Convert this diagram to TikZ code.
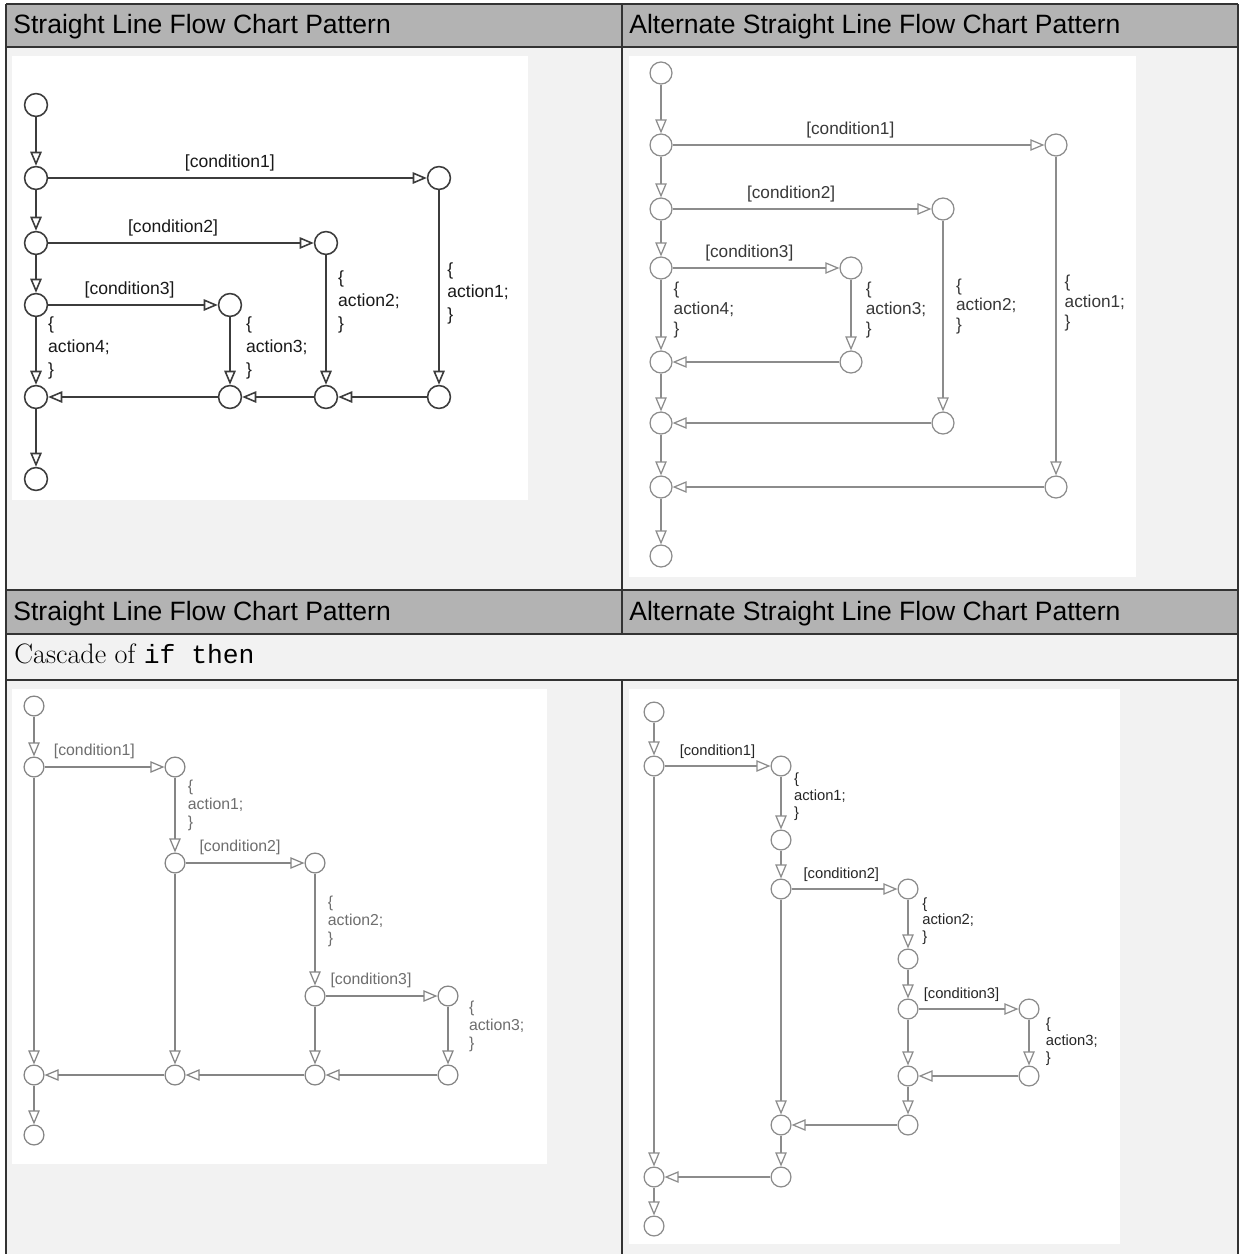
\documentclass[tikz,border=0pt]{standalone}
\usepackage{fontspec}
\usepackage{tikz}
\usetikzlibrary{arrows.meta}
\newfontfamily\labelfont{Liberation Sans}
\newfontfamily\codefont{Liberation Mono}
\newcommand\fontTL{\labelfont\fontsize{10}{13}\selectfont}
\newcommand\fontTR{\labelfont\fontsize{9.8}{11.3}\selectfont}
\newcommand\fontBL{\labelfont\fontsize{9}{10.2}\selectfont}
\newcommand\fontBR{\labelfont\fontsize{8.4}{9.6}\selectfont}
\definecolor{hdrgray}{HTML}{B3B3B3}
\definecolor{cellgray}{HTML}{F2F2F2}
\definecolor{rulegray}{HTML}{333333}
\definecolor{tlline}{HTML}{3C3C3C}
\definecolor{lightline}{HTML}{8C8C8C}
\definecolor{bltext}{HTML}{6E6E6E}

\begin{document}
\begin{tikzpicture}[x=0.02cm,y=-0.02cm,
  jn/.style={circle,draw,minimum size=#1,inner sep=0pt},
  flow/.style={-{Triangle[open,length=8pt,width=6.5pt]}},
  rule/.style={rulegray,line width=1pt},
  hdr/.style={font=\labelfont\fontsize{15.1}{17}\selectfont,anchor=base west,inner sep=0pt}]
\useasboundingbox (0,0) rectangle (1239,1254);
\fill[white] (0,0) rectangle (1239,1254);
\fill[hdrgray] (6,4) rectangle (1238,47);
\fill[cellgray] (6,47) rectangle (1238,590);
\fill[hdrgray] (6,590) rectangle (1238,634);
\fill[cellgray] (6,634) rectangle (1238,1254);
\fill[white] (12,56) rectangle (528,500);
\fill[white] (629,56) rectangle (1136,577);
\fill[white] (12,689) rectangle (547,1164);
\fill[white] (629,689) rectangle (1120,1244);
\draw[rule] (6,4) -- (1238,4) (6,47) -- (1238,47) (6,590) -- (1238,590) (6,634) -- (1238,634) (6,680) -- (1238,680);
\draw[rule] (1238,4) -- (1238,1254) (622,4) -- (622,634) (622,680) -- (622,1254);
\draw[rule,line width=1.3pt] (6,4) -- (6,1254);
\node[hdr] (hdrtl) at (13,33) {Straight Line Flow Chart Pattern};
\node[hdr] (hdrtr) at (629,33) {Alternate Straight Line Flow Chart Pattern};
\node[hdr] (hdrbl) at (13,620) {Straight Line Flow Chart Pattern};
\node[hdr] (hdrbr) at (629,620) {Alternate Straight Line Flow Chart Pattern};
\node[anchor=base west,inner sep=0pt,font=\fontsize{16}{19}\selectfont] (cascade) at (14,663) {Cascade of {\codefont\fontsize{15}{19}\selectfont if then}};

\begin{scope}[color=tlline,line width=0.9pt,nodes={font=\fontTL,text=black!90,inner sep=1pt}]
\node[jn=13pt] (tlstart) at (36,105) {};
\node[jn=13pt] (tls1) at (36,178) {};
\node[jn=13pt] (tls2) at (36,243) {};
\node[jn=13pt] (tls3) at (36,305) {};
\node[jn=13pt] (tlm0) at (36,397) {};
\node[jn=13pt] (tlend) at (36,479) {};
\node[jn=13pt] (tlt1) at (439,178) {};
\node[jn=13pt] (tlt2) at (326,243) {};
\node[jn=13pt] (tlt3) at (230,305) {};
\node[jn=13pt] (tlm1) at (439,397) {};
\node[jn=13pt] (tlm2) at (326,397) {};
\node[jn=13pt] (tlm3) at (230,397) {};
\draw[flow] (tlstart) -- (tls1);
\draw[flow] (tls1) -- (tls2);
\draw[flow] (tls2) -- (tls3);
\draw[flow] (tls1) -- node[pos=0.48,above=2.2pt] {[condition1]} (tlt1);
\draw[flow] (tls2) -- node[pos=0.47,above=2.2pt] {[condition2]} (tlt2);
\draw[flow] (tls3) -- node[pos=0.48,above=2.2pt] {[condition3]} (tlt3);
\draw[flow] (tls3) -- node[pos=0.45,right=5.5pt,align=left] {\{\\action4;\\\}} (tlm0);
\draw[flow] (tlt3) -- node[pos=0.45,right=7.7pt,align=left] {\{\\action3;\\\}} (tlm3);
\draw[flow] (tlt2) -- node[pos=0.36,right=5.5pt,align=left] {\{\\action2;\\\}} (tlm2);
\draw[flow] (tlt1) -- node[pos=0.53,right=3.3pt,align=left] {\{\\action1;\\\}} (tlm1);
\draw[flow] (tlm1) -- (tlm2);
\draw[flow] (tlm2) -- (tlm3);
\draw[flow] (tlm3) -- (tlm0);
\draw[flow] (tlm0) -- (tlend);
\end{scope}

\begin{scope}[color=lightline,line width=0.7pt,nodes={font=\fontTR,text=black!78,inner sep=1pt}]
\node[jn=12.5pt] (trstart) at (661,73) {};
\node[jn=12.5pt] (trs1) at (661,145) {};
\node[jn=12.5pt] (trs2) at (661,209) {};
\node[jn=12.5pt] (trs3) at (661,268) {};
\node[jn=12.5pt] (trm3) at (661,362) {};
\node[jn=12.5pt] (trm2) at (661,423) {};
\node[jn=12.5pt] (trm1) at (661,487) {};
\node[jn=12.5pt] (trend) at (661,556) {};
\node[jn=12.5pt] (trt1) at (1056,145) {};
\node[jn=12.5pt] (trt2) at (943,209) {};
\node[jn=12.5pt] (trt3) at (851,268) {};
\node[jn=12.5pt] (trr3) at (851,362) {};
\node[jn=12.5pt] (trr2) at (943,423) {};
\node[jn=12.5pt] (trr1) at (1056,487) {};
\draw[flow] (trstart) -- (trs1);
\draw[flow] (trs1) -- (trs2);
\draw[flow] (trs2) -- (trs3);
\draw[flow] (trs1) -- node[pos=0.478,above=2.6pt] {[condition1]} (trt1);
\draw[flow] (trs2) -- node[pos=0.458,above=2.6pt] {[condition2]} (trt2);
\draw[flow] (trs3) -- node[pos=0.46,above=2.6pt] {[condition3]} (trt3);
\draw[flow] (trs3) -- node[pos=0.43,right=5.9pt,align=left] {\{\\action4;\\\}} (trm3);
\draw[flow] (trt3) -- node[pos=0.43,right=7.1pt,align=left] {\{\\action3;\\\}} (trr3);
\draw[flow] (trt2) -- node[pos=0.45,right=6.1pt,align=left] {\{\\action2;\\\}} (trr2);
\draw[flow] (trt1) -- node[pos=0.46,right=3.6pt,align=left] {\{\\action1;\\\}} (trr1);
\draw[flow] (trr3) -- (trm3);
\draw[flow] (trm3) -- (trm2);
\draw[flow] (trr2) -- (trm2);
\draw[flow] (trm2) -- (trm1);
\draw[flow] (trr1) -- (trm1);
\draw[flow] (trm1) -- (trend);
\end{scope}

\begin{scope}[color=lightline!95!black,line width=0.7pt,nodes={font=\fontBL,text=bltext,inner sep=1pt}]
\node[jn=11.3pt] (blstart) at (34,706) {};
\node[jn=11.3pt] (bls1) at (34,767) {};
\node[jn=11.3pt] (blm0) at (34,1075) {};
\node[jn=11.3pt] (blend) at (34,1135) {};
\node[jn=11.3pt] (blt1) at (175,767) {};
\node[jn=11.3pt] (bls2) at (175,863) {};
\node[jn=11.3pt] (blm1) at (175,1075) {};
\node[jn=11.3pt] (blt2) at (315,863) {};
\node[jn=11.3pt] (bls3) at (315,996) {};
\node[jn=11.3pt] (blm2) at (315,1075) {};
\node[jn=11.3pt] (blt3) at (448,996) {};
\node[jn=11.3pt] (blm3) at (448,1075) {};
\draw[flow] (blstart) -- (bls1);
\draw[flow] (bls1) -- node[pos=0.415,above=3.2pt] {[condition1]} (blt1);
\draw[flow] (blt1) -- node[pos=0.37,right=6pt,align=left] {\{\\action1;\\\}} (bls2);
\draw[flow] (bls2) -- node[pos=0.458,above=3.2pt] {[condition2]} (blt2);
\draw[flow] (blt2) -- node[pos=0.43,right=6pt,align=left] {\{\\action2;\\\}} (bls3);
\draw[flow] (bls3) -- node[pos=0.406,above=3.2pt] {[condition3]} (blt3);
\draw[flow] (blt3) -- node[pos=0.35,right=10.6pt,align=left] {\{\\action3;\\\}} (blm3);
\draw[flow] (blm3) -- (blm2);
\draw[flow] (bls3) -- (blm2);
\draw[flow] (blm2) -- (blm1);
\draw[flow] (bls2) -- (blm1);
\draw[flow] (blm1) -- (blm0);
\draw[flow] (bls1) -- (blm0);
\draw[flow] (blm0) -- (blend);
\end{scope}

\begin{scope}[color=lightline,line width=0.7pt,nodes={font=\fontBR,text=black!85,inner sep=1pt}]
\node[jn=11.3pt] (brstart) at (654,712) {};
\node[jn=11.3pt] (brs1) at (654,766) {};
\node[jn=11.3pt] (brm0) at (654,1177) {};
\node[jn=11.3pt] (brend) at (654,1226) {};
\node[jn=11.3pt] (brt1) at (781,766) {};
\node[jn=11.3pt] (brj1) at (781,840) {};
\node[jn=11.3pt] (brs2) at (781,889) {};
\node[jn=11.3pt] (brm1) at (781,1125) {};
\node[jn=11.3pt] (brk1) at (781,1177) {};
\node[jn=11.3pt] (brt2) at (908,889) {};
\node[jn=11.3pt] (brj2) at (908,959) {};
\node[jn=11.3pt] (brs3) at (908,1009) {};
\node[jn=11.3pt] (brm2) at (908,1076) {};
\node[jn=11.3pt] (brk2) at (908,1125) {};
\node[jn=11.3pt] (brt3) at (1029,1009) {};
\node[jn=11.3pt] (brj3) at (1029,1076) {};
\draw[flow] (brstart) -- (brs1);
\draw[flow] (brs1) -- node[pos=0.5,above=2.9pt] {[condition1]} (brt1);
\draw[flow] (brt1) -- node[pos=0.38,right=6.1pt,align=left] {\{\\action1;\\\}} (brj1);
\draw[flow] (brj1) -- (brs2);
\draw[flow] (brs2) -- node[pos=0.47,above=2.9pt] {[condition2]} (brt2);
\draw[flow] (brt2) -- node[pos=0.44,right=6.8pt,align=left] {\{\\action2;\\\}} (brj2);
\draw[flow] (brj2) -- (brs3);
\draw[flow] (brs3) -- node[pos=0.43,above=2.9pt] {[condition3]} (brt3);
\draw[flow] (brt3) -- node[pos=0.48,right=8.3pt,align=left] {\{\\action3;\\\}} (brj3);
\draw[flow] (brj3) -- (brm2);
\draw[flow] (brs3) -- (brm2);
\draw[flow] (brm2) -- (brk2);
\draw[flow] (brk2) -- (brm1);
\draw[flow] (brs2) -- (brm1);
\draw[flow] (brm1) -- (brk1);
\draw[flow] (brk1) -- (brm0);
\draw[flow] (brs1) -- (brm0);
\draw[flow] (brm0) -- (brend);
\end{scope}
\end{tikzpicture}
\end{document}
